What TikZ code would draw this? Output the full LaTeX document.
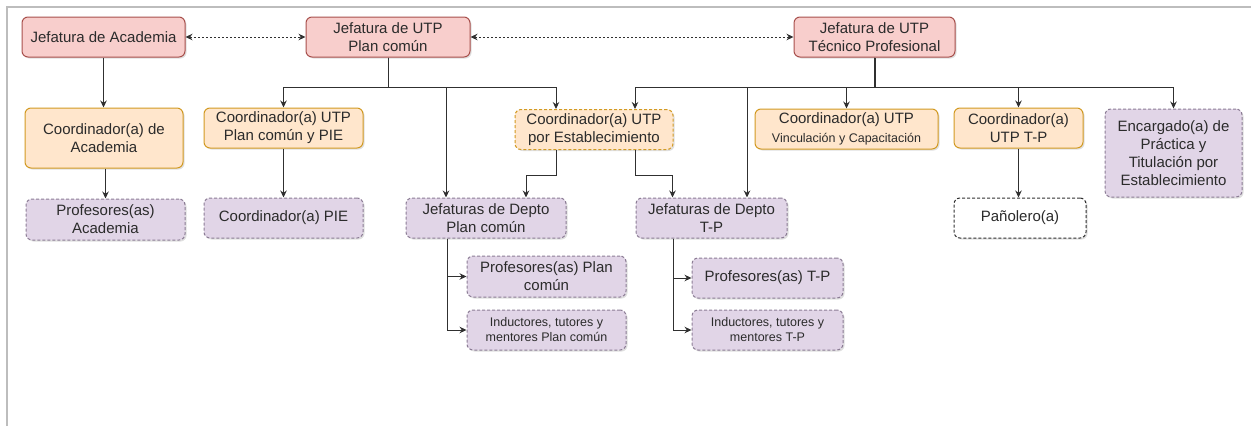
\documentclass[tikz,border=0pt]{standalone}
\usepackage{fontspec}
\setmainfont{Liberation Sans}
\usetikzlibrary{arrows.meta,shadows}

\definecolor{jefefill}{HTML}{F8CECC}
\definecolor{jefedraw}{HTML}{A8504C}
\definecolor{coordfill}{HTML}{FFE6CC}
\definecolor{coorddraw}{HTML}{D29A22}
\definecolor{docfill}{HTML}{E1D5E7}
\definecolor{docdraw}{HTML}{8C7D95}
\definecolor{textgray}{HTML}{2B2B2B}
\definecolor{linegray}{HTML}{303030}
\definecolor{framegray}{HTML}{BDBDBD}

\tikzset{
    box/.style = {rectangle, rounded corners=6pt, align=center, inner sep=0pt, line width=1pt,
        font=\fontsize{15}{18}\selectfont, text=textgray,
        drop shadow={shadow xshift=1.5pt, shadow yshift=-1.5pt, opacity=0.25}},
    jefe/.style = {box, draw=jefedraw, fill=jefefill},
    coord/.style = {box, draw=coorddraw, fill=coordfill},
    docente/.style = {box, draw=docdraw, fill=docfill, dash pattern=on 3pt off 2pt},
    blankbox/.style = {box, draw=linegray, fill=white, dash pattern=on 3pt off 2pt},
    small/.style = {font=\fontsize{12.5}{15}\selectfont},
    link/.style = {->, >={Stealth[length=7pt,width=6.5pt]}, line width=0.9pt, draw=linegray},
    par/.style = {<->, >={Stealth[length=7pt,width=6.5pt]}, line width=0.9pt, draw=linegray,
        dash pattern=on 2pt off 2pt}
}

\begin{document}
\begin{tikzpicture}[x=1pt, y=-1pt]
    \useasboundingbox (0,0) rectangle (1251,426);
    \draw [framegray, line width=1.2pt] (7,426) -- (7,7) -- (1251,7);

    % jefaturas
    \node (jacad) [jefe, minimum width=163pt, minimum height=40pt] at (103.5,37) {Jefatura de Academia};
    \node (jpc) [jefe, minimum width=164pt, minimum height=40pt] at (388,37) {Jefatura de UTP\\Plan común};
    \node (jtp) [jefe, minimum width=161pt, minimum height=40pt] at (874.5,37) {Jefatura de UTP\\Técnico Profesional};

    % coordinaciones
    \node (cacad) [coord, minimum width=158pt, minimum height=60pt] at (104,138) {Coordinador(a) de\\Academia};
    \node (cpie) [coord, minimum width=159pt, minimum height=40pt] at (283.5,128) {Coordinador(a) UTP\\Plan común y PIE};
    \node (cest) [coord, dash pattern=on 3pt off 2pt, minimum width=158pt, minimum height=40pt] at (594,129.5) {Coordinador(a) UTP\\por Establecimiento};
    \node (cvin) [coord, minimum width=183pt, minimum height=40pt] at (846.5,129) {Coordinador(a) UTP\\[1pt]{\fontsize{12.5}{15}\selectfont Vinculación y Capacitación}};
    \node (ctp) [coord, minimum width=129pt, minimum height=40pt] at (1018.5,128) {Coordinador(a)\\UTP T-P};
    \node (enc) [docente, minimum width=137pt, minimum height=88pt] at (1173.5,153) {Encargado(a) de\\Práctica y\\Titulación por\\Establecimiento};

    % docentes
    \node (prac) [docente, minimum width=159pt, minimum height=41pt] at (105.5,219.5) {Profesores(as)\\Academia};
    \node (pie) [docente, minimum width=159pt, minimum height=40pt] at (283.5,218) {Coordinador(a) PIE};
    \node (dpc) [docente, minimum width=160pt, minimum height=40pt] at (486,218) {Jefaturas de Depto\\Plan común};
    \node (dtp) [docente, minimum width=151pt, minimum height=40pt] at (711.5,218) {Jefaturas de Depto\\T-P};
    \node (panol) [blankbox, minimum width=132pt, minimum height=40pt] at (1020,218) {Pañolero(a)};
    \node (ppc) [docente, minimum width=159pt, minimum height=41pt] at (546.5,276.5) {Profesores(as) Plan\\común};
    \node (ipc) [docente, small, minimum width=159pt, minimum height=40pt] at (546.5,330) {Inductores, tutores y\\mentores Plan común};
    \node (ptp) [docente, minimum width=151pt, minimum height=40pt] at (767.5,278) {Profesores(as) T-P};
    \node (itp) [docente, small, minimum width=151pt, minimum height=40pt] at (767.5,330) {Inductores, tutores y\\mentores T-P};

    % relaciones entre jefaturas
    \draw [par] (jacad) -- (jpc);
    \draw [par] (jpc) -- (jtp);

    \draw [link] (jacad.south) -- (jacad.south |- cacad.north);
    \draw [link] (prac.north |- cacad.south) -- (prac.north);
    \draw [link] (cpie) -- (pie);

    % plan comun
    \draw [link] (jpc.south) -- ++(0,30) -| (cpie.north);
    \draw [link] (jpc.south) -- ++(0,30) -| ([xshift=-40pt]dpc.north);
    \draw [link] (jpc.south) -- ++(0,30) -| ([xshift=-38pt]cest.north);

    % tecnico profesional
    \draw [line width=2pt, linegray] (jtp.south) -- ++(0,30);
    \draw [link] (jtp.south) -- ++(0,30) -| ([xshift=41pt]cest.north);
    \draw [link] (jtp.south) -- ++(0,30) -| ([xshift=35.5pt]dtp.north);
    \draw [link] (jtp.south) -- ++(0,30) -| (cvin.north);
    \draw [link] (jtp.south) -- ++(0,30) -| (ctp.north);
    \draw [link] (jtp.south) -- ++(0,30) -| (enc.north);

    \draw [link] ([xshift=-38pt]cest.south) -- ++(0,25) -| ([xshift=40pt]dpc.north);
    \draw [link] ([xshift=41pt]cest.south) -- ++(0,25) -| ([xshift=-39pt]dtp.north);

    \draw [link] ([xshift=-39pt]dpc.south) |- (ppc.west);
    \draw [link] ([xshift=-39pt]dpc.south) |- (ipc.west);
    \draw [link] ([xshift=-38.5pt]dtp.south) |- (ptp.west);
    \draw [link] ([xshift=-38.5pt]dtp.south) |- (itp.west);
    \draw [link] (ctp.south) -- (ctp.south |- panol.north);
\end{tikzpicture}
\end{document}
